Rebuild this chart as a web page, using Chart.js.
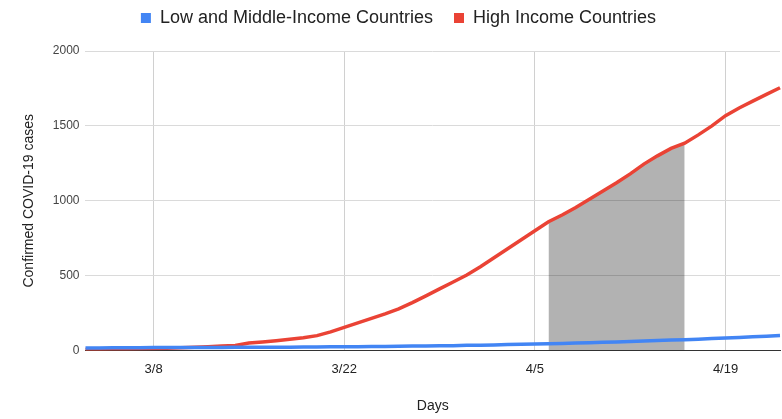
<!DOCTYPE html>
<html>
<head>
<meta charset="utf-8">
<script src="https://cdn.jsdelivr.net/npm/chart.js@4"></script>
<style>
  body { margin: 0; background: #fff; }
  #wrap { width: 782px; height: 419px; }
</style>
</head>
<body>
<div id="wrap"><canvas id="chart"></canvas></div>
<script>
const days = [
  '3/3', '3/4', '3/5', '3/6', '3/7', '3/8', '3/9', '3/10', '3/11', '3/12',
  '3/13', '3/14', '3/15', '3/16', '3/17', '3/18', '3/19', '3/20', '3/21', '3/22',
  '3/23', '3/24', '3/25', '3/26', '3/27', '3/28', '3/29', '3/30', '3/31', '4/1',
  '4/2', '4/3', '4/4', '4/5', '4/6', '4/7', '4/8', '4/9', '4/10', '4/11',
  '4/12', '4/13', '4/14', '4/15', '4/16', '4/17', '4/18', '4/19', '4/20', '4/21',
  '4/22', '4/23'
];
const shownTicks = ['3/8', '3/22', '4/5', '4/19'];

const lowMiddle = [
  18, 18, 19, 19, 19, 20, 20, 20, 21, 21,
  21, 22, 22, 22, 23, 23, 24, 24, 25, 25,
  26, 27, 28, 29, 30, 31, 32, 33, 35, 36,
  38, 40, 42, 44, 46, 48, 50, 52, 55, 58,
  61, 64, 67, 70, 73, 76, 80, 84, 88, 92,
  96, 100
];
const highIncome = [
  8, 9, 10, 11, 12, 14, 16, 19, 22, 26,
  30, 34, 50, 58, 66, 76, 86, 100, 125, 155,
  185, 215, 245, 278, 320, 365, 412, 458, 505, 560,
  620, 680, 740, 800, 860, 905, 955, 1010, 1065, 1120,
  1180, 1245, 1300, 1350, 1385, 1440, 1500, 1568, 1620, 1665,
  1710, 1755
];
// highlighted span under the high income line
const shadeFrom = '4/6';
const shadeTo = '4/16';

const i0 = days.indexOf(shadeFrom);
const i1 = days.indexOf(shadeTo);
const shade = highIncome.map((v, i) => (i >= i0 && i <= i1 ? v : null));

Chart.defaults.font.family = 'Arial, "Liberation Sans", sans-serif';

// extra gap between legend and plot
const legendGap = {
  id: 'legendGap',
  beforeInit(chart) {
    const fit = chart.legend.fit;
    chart.legend.fit = function () {
      fit.call(this);
      this.height += 14;
    };
  }
};

new Chart(document.getElementById('chart'), {
  type: 'line',
  data: {
    labels: days,
    datasets: [
      {
        label: 'Low and Middle-Income Countries',
        data: lowMiddle,
        borderColor: '#4285f4',
        backgroundColor: '#4285f4',
        borderWidth: 3.5,
        pointRadius: 0,
        tension: 0,
        order: 1
      },
      {
        label: 'High Income Countries',
        data: highIncome,
        borderColor: '#ea4335',
        backgroundColor: '#ea4335',
        borderWidth: 3.5,
        pointRadius: 0,
        tension: 0,
        order: 2
      },
      {
        label: 'shade',
        data: shade,
        borderWidth: 0,
        borderColor: 'rgba(0,0,0,0)',
        backgroundColor: 'rgba(0,0,0,0.3)',
        pointRadius: 0,
        fill: 'origin',
        spanGaps: false,
        order: 3
      }
    ]
  },
  plugins: [legendGap],
  options: {
    responsive: true,
    maintainAspectRatio: false,
    animation: false,
    layout: { padding: { left: 17, right: 2, top: -12, bottom: 0 } },
    plugins: {
      legend: {
        position: 'top',
        labels: {
          generateLabels: (chart) =>
            Chart.defaults.plugins.legend.labels.generateLabels(chart)
              .filter((l) => l.text !== 'shade')
              .map((l) => ({ ...l, lineWidth: 0 })),
          boxWidth: 10,
          boxHeight: 10,
          padding: 21,
          color: '#222',
          font: { size: 18 }
        }
      },
      tooltip: { enabled: false }
    },
    scales: {
      x: {
        grid: { color: '#d0d0d0', drawTicks: false },
        border: { color: '#333', width: 1 },
        ticks: {
          autoSkip: false,
          maxRotation: 0,
          padding: 11,
          color: '#222',
          font: { size: 13 },
          callback: (v, i) => (shownTicks.includes(days[i]) ? days[i] : null)
        },
        title: {
          display: true,
          text: 'Days',
          color: '#222',
          font: { size: 14 },
          padding: { top: 10 }
        }
      },
      y: {
        min: 0,
        max: 2000,
        grid: { color: '#dadada', drawTicks: false },
        border: { display: false },
        ticks: {
          stepSize: 500,
          padding: 6,
          color: '#444',
          font: { size: 12 },
          callback: (v) => String(v)
        },
        title: {
          display: true,
          text: 'Confirmed COVID-19 cases',
          color: '#222',
          font: { size: 14 },
          padding: { bottom: 9 }
        }
      }
    }
  }
});
</script>
</body>
</html>
